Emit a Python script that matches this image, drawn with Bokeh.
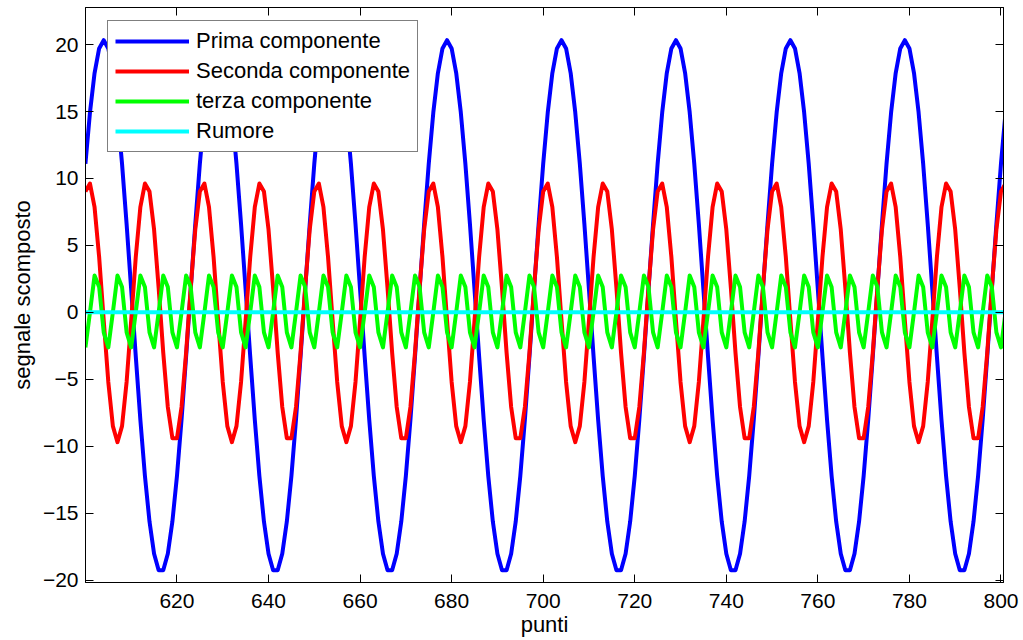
from bokeh.plotting import figure
from bokeh.models import Range1d, FixedTicker, LinearAxis, Legend, LegendItem
from bokeh.embed import file_html
from bokeh.resources import INLINE

# x positions (sample index)
punti = list(range(600, 802))

# Prima componente (blue)
prima = [
    11.10, 14.94, 17.87, 19.71, 20.33, 19.71, 17.87, 14.94, 11.10, 6.59, 1.70, -3.28, -8.01, -12.22, -15.63, -18.03, -19.27, -19.27, -18.03, -15.63, -12.22, -8.01, -3.28, 1.70, 6.59,
    11.10, 14.94, 17.87, 19.71, 20.33, 19.71, 17.87, 14.94, 11.10, 6.59, 1.70, -3.28, -8.01, -12.22, -15.63, -18.03, -19.27, -19.27, -18.03, -15.63, -12.22, -8.01, -3.28, 1.70, 6.59,
    11.10, 14.94, 17.87, 19.71, 20.33, 19.71, 17.87, 14.94, 11.10, 6.59, 1.70, -3.28, -8.01, -12.22, -15.63, -18.03, -19.27, -19.27, -18.03, -15.63, -12.22, -8.01, -3.28, 1.70, 6.59,
    11.10, 14.94, 17.87, 19.71, 20.33, 19.71, 17.87, 14.94, 11.10, 6.59, 1.70, -3.28, -8.01, -12.22, -15.63, -18.03, -19.27, -19.27, -18.03, -15.63, -12.22, -8.01, -3.28, 1.70, 6.59,
    11.10, 14.94, 17.87, 19.71, 20.33, 19.71, 17.87, 14.94, 11.10, 6.59, 1.70, -3.28, -8.01, -12.22, -15.63, -18.03, -19.27, -19.27, -18.03, -15.63, -12.22, -8.01, -3.28, 1.70, 6.59,
    11.10, 14.94, 17.87, 19.71, 20.33, 19.71, 17.87, 14.94, 11.10, 6.59, 1.70, -3.28, -8.01, -12.22, -15.63, -18.03, -19.27, -19.27, -18.03, -15.63, -12.22, -8.01, -3.28, 1.70, 6.59,
    11.10, 14.94, 17.87, 19.71, 20.33, 19.71, 17.87, 14.94, 11.10, 6.59, 1.70, -3.28, -8.01, -12.22, -15.63, -18.03, -19.27, -19.27, -18.03, -15.63, -12.22, -8.01, -3.28, 1.70, 6.59,
    11.10, 14.94, 17.87, 19.71, 20.33, 19.71, 17.87, 14.94, 11.10, 6.59, 1.70, -3.28, -8.01, -12.22, -15.63, -18.03, -19.27, -19.27, -18.03, -15.63, -12.22, -8.01, -3.28, 1.70, 6.59,
    11.10, 14.94,
]

# Seconda componente (red)
seconda = [
    9.02, 9.62, 7.85, 4.13, -0.61, -5.20, -8.50, -9.70, -8.50, -5.20, -0.61, 4.13, 7.85, 9.62, 9.02, 6.18, 1.82, -3.00, -7.07, -9.40, -9.40, -7.07, -3.00, 1.82, 6.18,
    9.02, 9.62, 7.85, 4.13, -0.61, -5.20, -8.50, -9.70, -8.50, -5.20, -0.61, 4.13, 7.85, 9.62, 9.02, 6.18, 1.82, -3.00, -7.07, -9.40, -9.40, -7.07, -3.00, 1.82, 6.18,
    9.02, 9.62, 7.85, 4.13, -0.61, -5.20, -8.50, -9.70, -8.50, -5.20, -0.61, 4.13, 7.85, 9.62, 9.02, 6.18, 1.82, -3.00, -7.07, -9.40, -9.40, -7.07, -3.00, 1.82, 6.18,
    9.02, 9.62, 7.85, 4.13, -0.61, -5.20, -8.50, -9.70, -8.50, -5.20, -0.61, 4.13, 7.85, 9.62, 9.02, 6.18, 1.82, -3.00, -7.07, -9.40, -9.40, -7.07, -3.00, 1.82, 6.18,
    9.02, 9.62, 7.85, 4.13, -0.61, -5.20, -8.50, -9.70, -8.50, -5.20, -0.61, 4.13, 7.85, 9.62, 9.02, 6.18, 1.82, -3.00, -7.07, -9.40, -9.40, -7.07, -3.00, 1.82, 6.18,
    9.02, 9.62, 7.85, 4.13, -0.61, -5.20, -8.50, -9.70, -8.50, -5.20, -0.61, 4.13, 7.85, 9.62, 9.02, 6.18, 1.82, -3.00, -7.07, -9.40, -9.40, -7.07, -3.00, 1.82, 6.18,
    9.02, 9.62, 7.85, 4.13, -0.61, -5.20, -8.50, -9.70, -8.50, -5.20, -0.61, 4.13, 7.85, 9.62, 9.02, 6.18, 1.82, -3.00, -7.07, -9.40, -9.40, -7.07, -3.00, 1.82, 6.18,
    9.02, 9.62, 7.85, 4.13, -0.61, -5.20, -8.50, -9.70, -8.50, -5.20, -0.61, 4.13, 7.85, 9.62, 9.02, 6.18, 1.82, -3.00, -7.07, -9.40, -9.40, -7.07, -3.00, 1.82, 6.18,
    9.02, 9.62,
]

# terza componente (green)
terza = [
    -2.62, 0.00, 2.75, 1.90, -1.50, -2.62, 0.00, 2.75, 1.90, -1.50, -2.62, 0.00, 2.75, 1.90, -1.50, -2.62, 0.00, 2.75, 1.90, -1.50, -2.62, 0.00, 2.75, 1.90, -1.50,
    -2.62, 0.00, 2.75, 1.90, -1.50, -2.62, 0.00, 2.75, 1.90, -1.50, -2.62, 0.00, 2.75, 1.90, -1.50, -2.62, 0.00, 2.75, 1.90, -1.50, -2.62, 0.00, 2.75, 1.90, -1.50,
    -2.62, 0.00, 2.75, 1.90, -1.50, -2.62, 0.00, 2.75, 1.90, -1.50, -2.62, 0.00, 2.75, 1.90, -1.50, -2.62, 0.00, 2.75, 1.90, -1.50, -2.62, 0.00, 2.75, 1.90, -1.50,
    -2.62, 0.00, 2.75, 1.90, -1.50, -2.62, 0.00, 2.75, 1.90, -1.50, -2.62, 0.00, 2.75, 1.90, -1.50, -2.62, 0.00, 2.75, 1.90, -1.50, -2.62, 0.00, 2.75, 1.90, -1.50,
    -2.62, 0.00, 2.75, 1.90, -1.50, -2.62, 0.00, 2.75, 1.90, -1.50, -2.62, 0.00, 2.75, 1.90, -1.50, -2.62, 0.00, 2.75, 1.90, -1.50, -2.62, 0.00, 2.75, 1.90, -1.50,
    -2.62, 0.00, 2.75, 1.90, -1.50, -2.62, 0.00, 2.75, 1.90, -1.50, -2.62, 0.00, 2.75, 1.90, -1.50, -2.62, 0.00, 2.75, 1.90, -1.50, -2.62, 0.00, 2.75, 1.90, -1.50,
    -2.62, 0.00, 2.75, 1.90, -1.50, -2.62, 0.00, 2.75, 1.90, -1.50, -2.62, 0.00, 2.75, 1.90, -1.50, -2.62, 0.00, 2.75, 1.90, -1.50, -2.62, 0.00, 2.75, 1.90, -1.50,
    -2.62, 0.00, 2.75, 1.90, -1.50, -2.62, 0.00, 2.75, 1.90, -1.50, -2.62, 0.00, 2.75, 1.90, -1.50, -2.62, 0.00, 2.75, 1.90, -1.50, -2.62, 0.00, 2.75, 1.90, -1.50,
    -2.62, 0.00,
]

# Rumore (cyan) - flat at zero
rumore = [
    0, 0, 0, 0, 0, 0, 0, 0, 0, 0, 0, 0, 0, 0, 0, 0, 0, 0, 0, 0, 0, 0, 0, 0, 0,
    0, 0, 0, 0, 0, 0, 0, 0, 0, 0, 0, 0, 0, 0, 0, 0, 0, 0, 0, 0, 0, 0, 0, 0, 0,
    0, 0, 0, 0, 0, 0, 0, 0, 0, 0, 0, 0, 0, 0, 0, 0, 0, 0, 0, 0, 0, 0, 0, 0, 0,
    0, 0, 0, 0, 0, 0, 0, 0, 0, 0, 0, 0, 0, 0, 0, 0, 0, 0, 0, 0, 0, 0, 0, 0, 0,
    0, 0, 0, 0, 0, 0, 0, 0, 0, 0, 0, 0, 0, 0, 0, 0, 0, 0, 0, 0, 0, 0, 0, 0, 0,
    0, 0, 0, 0, 0, 0, 0, 0, 0, 0, 0, 0, 0, 0, 0, 0, 0, 0, 0, 0, 0, 0, 0, 0, 0,
    0, 0, 0, 0, 0, 0, 0, 0, 0, 0, 0, 0, 0, 0, 0, 0, 0, 0, 0, 0, 0, 0, 0, 0, 0,
    0, 0, 0, 0, 0, 0, 0, 0, 0, 0, 0, 0, 0, 0, 0, 0, 0, 0, 0, 0, 0, 0, 0, 0, 0,
    0, 0,
]

series_labels = ["Prima componente", "Seconda componente", "terza componente", "Rumore"]
series_colors = ["#0000ff", "#ff0000", "#00ff00", "#00ffff"]

x_ticks = [620, 640, 660, 680, 700, 720, 740, 760, 780, 800]
y_ticks = [-20, -15, -10, -5, 0, 5, 10, 15, 20]
y_tick_labels = {-20: "\u221220", -15: "\u221215", -10: "\u221210", -5: "\u22125",
                 0: "0", 5: "5", 10: "10", 15: "15", 20: "20"}

FONT = "Liberation Sans"

p = figure(width=1023, height=640, output_backend="svg", toolbar_location=None,
           x_range=Range1d(600.02, 800.55), y_range=Range1d(-20.18, 22.77),
           min_border_left=85, min_border_right=20, min_border_top=7,
           min_border_bottom=58)
p.background_fill_color = "white"
p.border_fill_color = "white"
p.outline_line_color = "black"
p.outline_line_width = 1
p.xgrid.visible = False
p.ygrid.visible = False

p.add_layout(LinearAxis(), "above")
p.add_layout(LinearAxis(), "right")

for ax in p.xaxis:
    ax.ticker = FixedTicker(ticks=x_ticks)
for ax in p.yaxis:
    ax.ticker = FixedTicker(ticks=y_ticks)
    ax.major_label_overrides = y_tick_labels

for ax in p.xaxis + p.yaxis:
    ax.axis_line_color = "black"
    ax.axis_line_width = 1
    ax.major_tick_in = 8
    ax.major_tick_out = 0
    ax.major_tick_line_color = "black"
    ax.major_tick_line_width = 1
    ax.minor_tick_line_color = None
    ax.major_label_text_font = FONT
    ax.major_label_text_font_size = "21px"
    ax.major_label_text_color = "black"

# mirrored tick marks only (MATLAB box), no labels
for ax in (p.above[0], p.right[0]):
    ax.major_label_text_font_size = "0px"
    ax.major_label_text_color = None
    ax.major_label_standoff = 0

xa = p.below[0]
xa.major_label_standoff = 11
xa.axis_label = "punti"
xa.axis_label_text_font = FONT
xa.axis_label_text_font_size = "22px"
xa.axis_label_text_font_style = "normal"
xa.axis_label_text_color = "black"
xa.axis_label_standoff = 1

ya = p.left[0]
ya.major_label_standoff = 7
ya.axis_label = "segnale scomposto"
ya.axis_label_text_font = FONT
ya.axis_label_text_font_size = "22px"
ya.axis_label_text_font_style = "normal"
ya.axis_label_text_color = "black"
ya.axis_label_standoff = 5

renderers = []
for ys, col in zip([prima, seconda, terza, rumore], series_colors):
    r = p.line(punti, ys, line_color=col, line_width=4, line_join="round")
    renderers.append(r)

legend = Legend(items=[LegendItem(label=lab, renderers=[r])
                       for lab, r in zip(series_labels, renderers)],
                location=(22, 430))
legend.margin = 0
legend.padding = 7
legend.spacing = 4
legend.glyph_width = 74
legend.glyph_height = 24
legend.label_standoff = 7
legend.label_text_font = FONT
legend.label_text_font_size = "22px"
legend.label_text_color = "black"
legend.border_line_color = "black"
legend.border_line_width = 1.5
legend.background_fill_color = "white"
legend.background_fill_alpha = 1
p.add_layout(legend)

open("out.html", "w").write(file_html(p, INLINE))
